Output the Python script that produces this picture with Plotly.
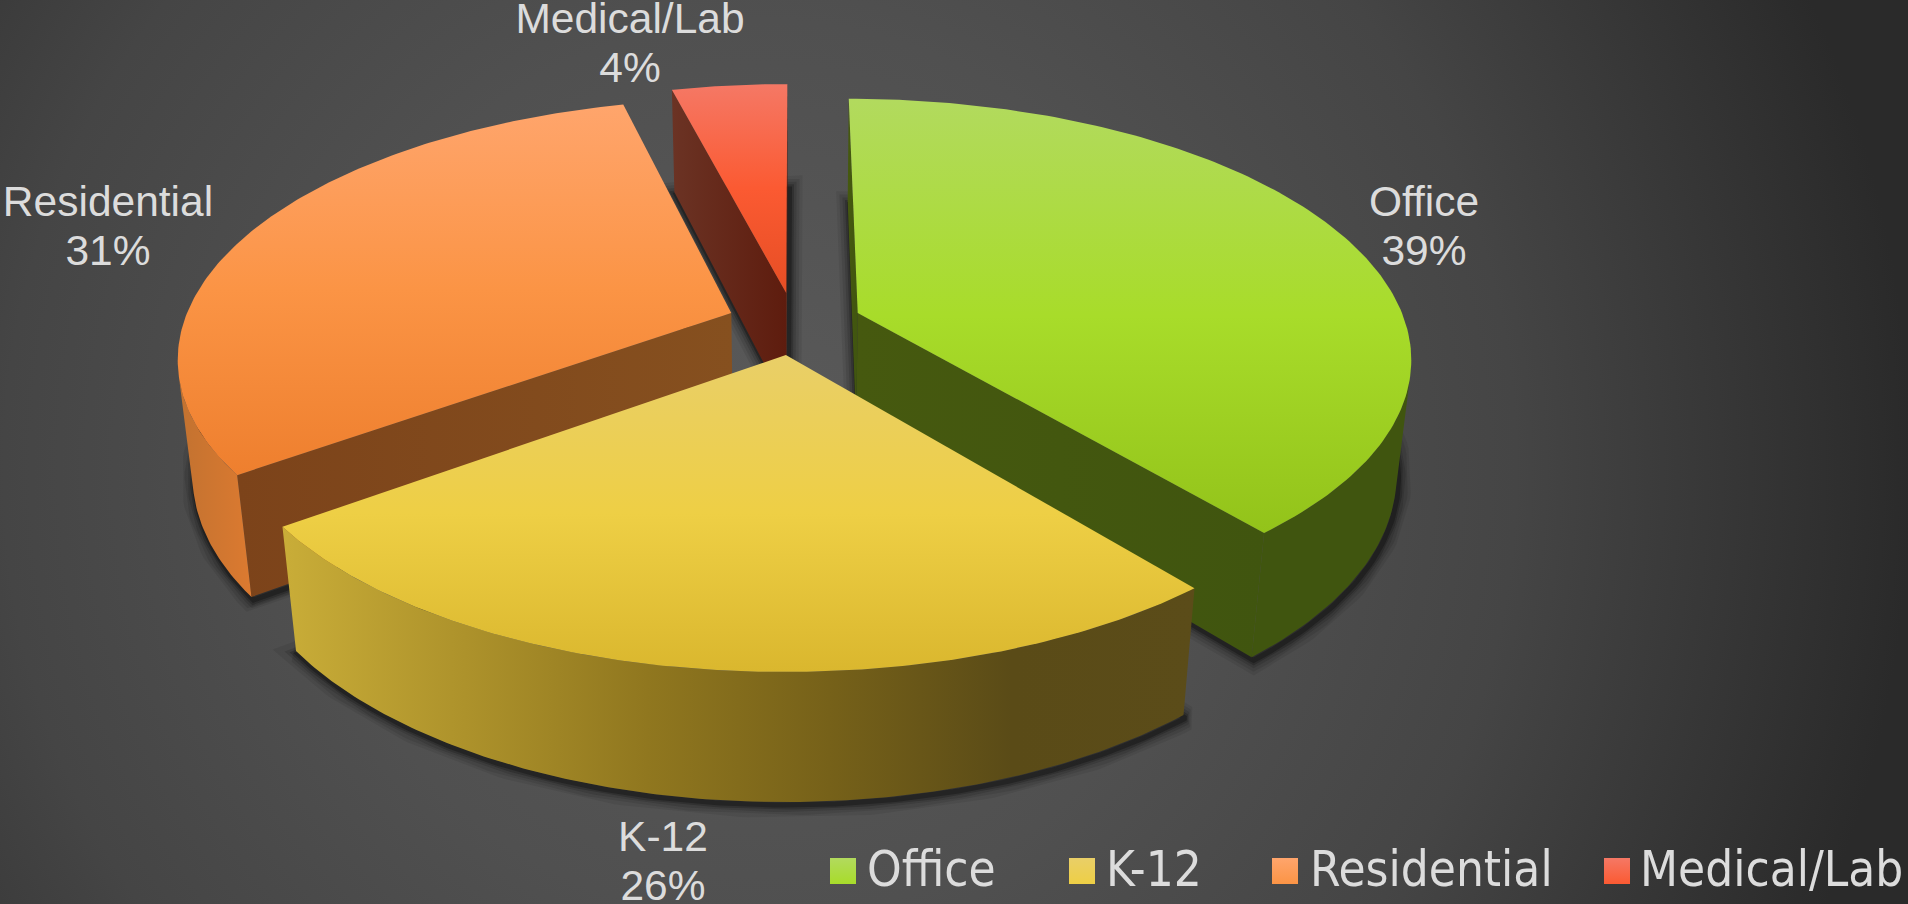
import numpy as np
import plotly.graph_objects as go

# ---- chart data ----
categories = ["Office", "K-12", "Residential", "Medical/Lab"]
shares = [39, 26, 31, 4]

# ---- styling ----
W, H = 1908, 904
TOP_STOPS = {
    "Office": ["#b2da5e", "#a8dc2a", "#93c31a"],
    "K-12": ["#e9cf68", "#eecf45", "#dab72e"],
    "Residential": ["#ffa56c", "#fb9445", "#ee7f2e"],
    "Medical/Lab": ["#f57865", "#fb5a32", "#e64e24"],
}
WALL_STOPS = {
    "Office": ["#40550f", "#40550f"],
    "K-12": ["#c9ad38", "#ad922b", "#90771f", "#766119", "#5a4b17", "#5b4c19"],
    "Residential": ["#c27230", "#dc7a30"],
    "Medical/Lab": ["#6b3324", "#5e1c0e"],
}
CUT_STOPS = {
    "Office": ["#46590f", "#40550f"],
    "K-12": ["#5b4c19", "#5b4c19"],
    "Residential": ["#7c431a", "#86501f"],
    "Medical/Lab": ["#6b3324", "#5e1c0e"],
}
DRAW_ORDER = ["Medical/Lab", "Office", "Residential", "K-12"]
LABEL_POS = {
    "Office": (1424, 205, 254),
    "K-12": (663, 840, 889),
    "Residential": (108, 205, 254),
    "Medical/Lab": (630, 22, 71),
}
LEGEND_MARK_X = {"Office": 843, "K-12": 1082, "Residential": 1285, "Medical/Lab": 1617}
LEGEND_TEXT_X = {"Office": 867, "K-12": 1106, "Residential": 1310, "Medical/Lab": 1640}
LEGEND_Y = 871
LEGEND_TEXT_Y = 874
LABEL_COLOR = "#dcdcdc"

# ---- 3-D pie camera model ----
CX, CY, SX, SY, K_PERSP, DEPTH, M_PERSP, EXPLODE = 794.5, 323.4, 548, 252.8, 0.1656, 117.4, 0.024, 0.1234


def project(px, py, down=0.0):
    w = 1 + K_PERSP * py + M_PERSP * down
    return CX + SX * px / w, CY - (SY * py - DEPTH * down) / w


def scale(colors):
    n = len(colors) - 1
    return [[i / n, c] for i, c in enumerate(colors)]


def poly(fig, xs, ys, colors, kind):
    xs, ys = np.asarray(xs), np.asarray(ys)
    if kind == "vertical":
        start, stop = float(ys.min()), float(ys.max())
    else:
        start, stop = float(xs.min()), float(xs.max())
    fig.add_trace(go.Scatter(
        x=xs, y=ys, mode="lines", fill="toself", line=dict(width=0),
        fillgradient=dict(type=kind, colorscale=scale(colors), start=start, stop=stop),
        hoverinfo="skip", showlegend=False,
    ))


def signed_area(xs, ys):
    return 0.5 * sum(xs[i] * ys[(i + 1) % len(xs)] - xs[(i + 1) % len(xs)] * ys[i] for i in range(len(xs)))


fig = go.Figure()

# background
R = 1200
BGX, BGY = 760, 470
fig.add_trace(go.Scatter(
    x=[BGX - R, BGX + R, BGX + R, BGX - R, BGX - R],
    y=[BGY - R, BGY - R, BGY + R, BGY + R, BGY - R],
    mode="lines", fill="toself", line=dict(width=0),
    fillgradient=dict(type="radial", colorscale=[
        [0, "#5a5a5a"], [0.375, "#505050"], [0.63, "#454545"], [0.96, "#2a2a2a"], [1, "#2a2a2a"]]),
    hoverinfo="skip", showlegend=False,
))

# slices from the values
total = sum(shares)
edges = np.concatenate([[0], np.cumsum(shares)]) / total * 2 * np.pi
geom = {name: (a0, a1) for name, a0, a1 in zip(categories, edges[:-1], edges[1:])}

for name in DRAW_ORDER:
    a0, a1 = geom[name]
    mid = (a0 + a1) / 2
    ox, oy = EXPLODE * np.sin(mid), EXPLODE * np.cos(mid)
    th = np.linspace(a0, a1, 160)
    ax, ay = ox + np.sin(th), oy + np.cos(th)

    top_x, top_y = project(np.r_[ox, ax, ox], np.r_[oy, ay, oy])
    bot_x, bot_y = project(np.r_[ox, ax, ox], np.r_[oy, ay, oy], 1.0)

    # soft contact shadow round the bottom face
    for width, alpha in [(26, 0.07), (20, 0.09), (14, 0.13), (9, 0.2), (5, 0.3)]:
        fig.add_trace(go.Scatter(
            x=bot_x + 2, y=bot_y + 3, mode="lines",
            line=dict(color=f"rgba(5,5,5,{alpha})", width=width),
            hoverinfo="skip", showlegend=False,
        ))

    # radial cut faces that look towards the viewer
    for a, sign in ((a0, -1), (a1, 1)):
        ex, ey = ox + np.sin(a), oy + np.cos(a)
        t0x, t0y = project(ox, oy)
        t1x, t1y = project(ex, ey)
        b0x, b0y = project(ox, oy, 1.0)
        b1x, b1y = project(ex, ey, 1.0)
        qx, qy = [t0x, t1x, b1x, b0x], [t0y, t1y, b1y, b0y]
        if signed_area(qx, qy) * sign > 1:
            poly(fig, qx + qx[:1], qy + qy[:1], CUT_STOPS[name], "horizontal")

    # outer wall: only the part of the rim that faces the viewer
    wt_x, wt_y = project(ax, ay)
    wb_x, wb_y = project(ax, ay, 1.0)
    tx, ty = np.gradient(wt_x), np.gradient(wt_y)
    vx, vy = wb_x - wt_x, wb_y - wt_y
    front = tx * vy - ty * vx < 0
    if front.sum() > 1:
        fx, fy = wt_x[front], wt_y[front]
        gx, gy = wb_x[front], wb_y[front]
        poly(fig, np.r_[fx, gx[::-1], fx[0]], np.r_[fy, gy[::-1], fy[0]], WALL_STOPS[name], "horizontal")

    # top face
    poly(fig, top_x, top_y, TOP_STOPS[name], "vertical")

# data labels
for name, value in zip(categories, shares):
    lx, ly1, ly2 = LABEL_POS[name]
    fig.add_trace(go.Scatter(
        x=[lx, lx], y=[ly1, ly2], mode="text", text=[name, f"{value}%"],
        textposition="middle center",
        textfont=dict(family="Liberation Sans", size=42.5, color=LABEL_COLOR),
        hoverinfo="skip", showlegend=False, cliponaxis=False,
    ))

# legend
for name in categories:
    stops = TOP_STOPS[name]
    fig.add_trace(go.Scatter(
        x=[LEGEND_MARK_X[name]], y=[LEGEND_Y], mode="markers",
        marker=dict(symbol="square", size=26, color=stops[0], line=dict(width=0),
                    gradient=dict(type="vertical", color=stops[1])),
        hoverinfo="skip", showlegend=False,
    ))
    fig.add_trace(go.Scatter(
        x=[LEGEND_TEXT_X[name]], y=[LEGEND_TEXT_Y], mode="text", text=[name],
        textposition="middle right",
        textfont=dict(family="DejaVu Sans Condensed, DejaVu Sans", size=49, color=LABEL_COLOR),
        hoverinfo="skip", showlegend=False, cliponaxis=False,
    ))

fig.update_layout(
    width=W, height=H, margin=dict(l=0, r=0, t=0, b=0),
    paper_bgcolor="#444444", plot_bgcolor="#444444", showlegend=False,
    xaxis=dict(range=[0, W], visible=False, fixedrange=True),
    yaxis=dict(range=[H, 0], visible=False, fixedrange=True),
)
fig.write_html("out.html", config=dict(displayModeBar=False),
               post_script="document.body.style.margin='0';document.body.style.overflow='hidden';")
